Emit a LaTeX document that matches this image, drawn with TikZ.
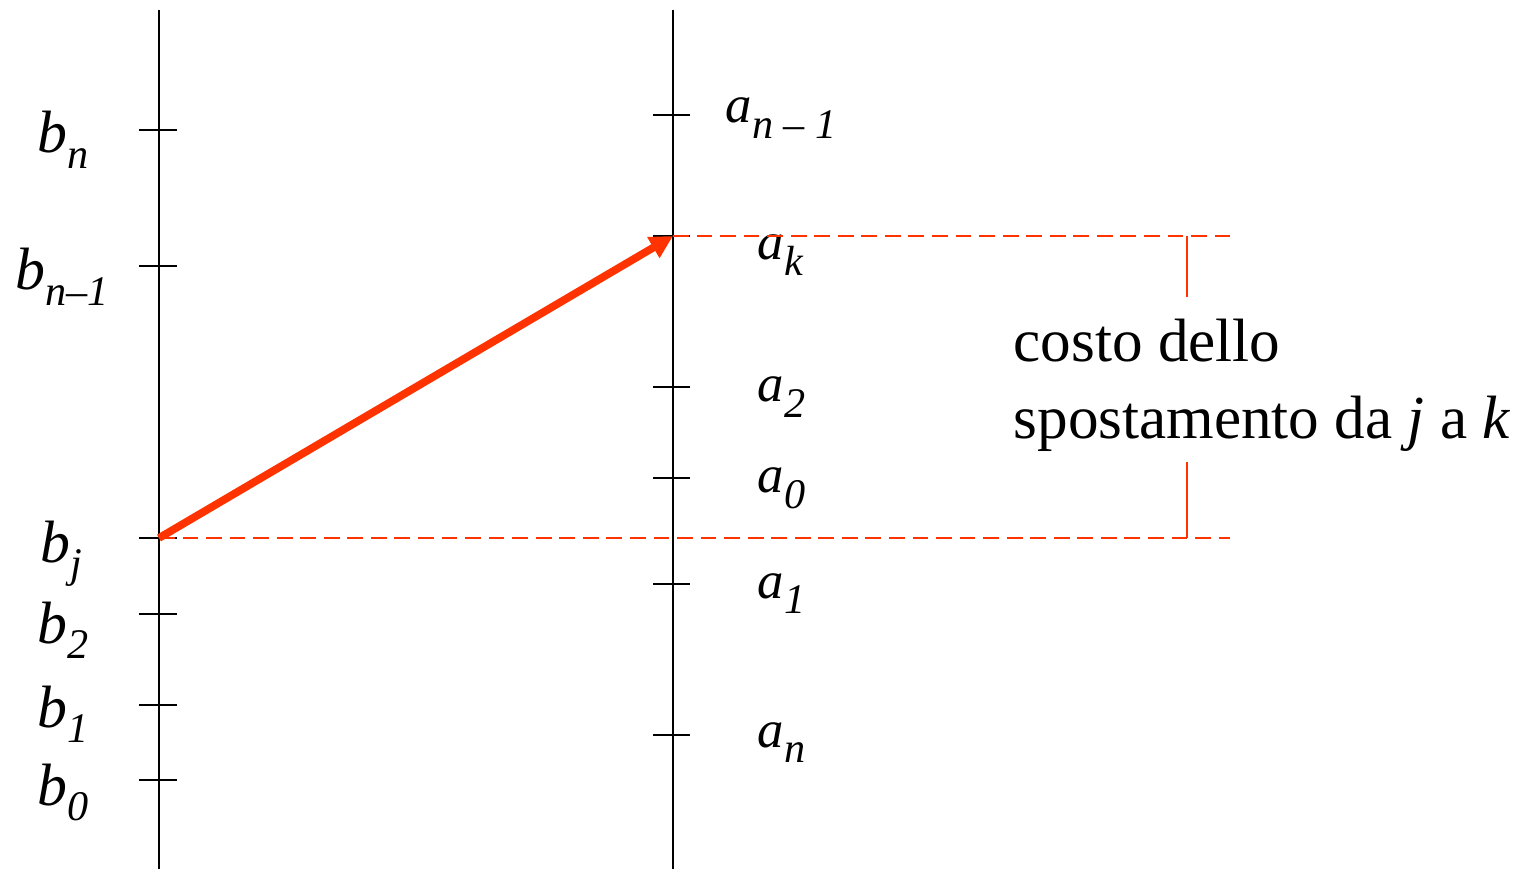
\documentclass[tikz,border=0pt]{standalone}
\usepackage{fontspec}
\setmainfont{Liberation Serif}
\usepackage{tikz}
\usetikzlibrary{arrows.meta}
\definecolor{costred}{HTML}{FF3300}
\tikzset{
  axis/.style={line width=0.6pt},
  axistick/.style={line width=0.6pt},
  levelline/.style={costred, line width=0.55pt, dash pattern=on 4.5pt off 2.2pt},
  bracketline/.style={costred, line width=0.55pt},
  movearrow/.style={costred, line width=2.2pt, -{Triangle[length=6.5pt, width=6.5pt]}},
  bname/.style={anchor=base west, inner sep=0pt, font=\fontsize{17}{20}\selectfont},
  aname/.style={anchor=base west, inner sep=0pt, font=\fontsize{15}{18}\selectfont},
  costtext/.style={anchor=west, align=left, inner sep=0pt, font=\fontsize{17.4}{22}\selectfont}
}
\newcommand{\ix}[2]{\textit{#1}\raisebox{-4.5pt}{\fontsize{12}{14}\selectfont\textit{#2}}}

\begin{document}
\begin{tikzpicture}[x=0.1mm, y=-0.1mm]
  \useasboundingbox (0,0) rectangle (1538,869);

  % the two axes
  \coordinate (btop) at (159,10);
  \coordinate (bbot) at (159,869);
  \coordinate (atop) at (673,10);
  \coordinate (abot) at (673,869);
  \draw[axis] (btop) -- (bbot);
  \draw[axis] (atop) -- (abot);

  % ticks on the left axis
  \draw[axistick] (139,130) -- (177,130);
  \draw[axistick] (139,266) -- (177,266);
  \draw[axistick] (139,538) -- (177,538);
  \draw[axistick] (139,614) -- (177,614);
  \draw[axistick] (139,705) -- (177,705);
  \draw[axistick] (139,780) -- (177,780);

  % ticks on the right axis
  \draw[axistick] (653,115) -- (690,115);
  \draw[axistick] (653,236) -- (690,236);
  \draw[axistick] (653,387) -- (690,387);
  \draw[axistick] (653,478) -- (690,478);
  \draw[axistick] (653,584) -- (690,584);
  \draw[axistick] (653,735) -- (690,735);

  \node[bname] (bn)  at (37,153) {\ix{b}{n}};
  \node[bname] (bn1) at (15,290) {\ix{b}{n–1}};
  \node[bname] (bjl) at (40,562) {\ix{b}{j}};
  \node[bname] (b2)  at (37,643) {\ix{b}{2}};
  \node[bname] (b1)  at (37,727) {\ix{b}{1}};
  \node[bname] (b0)  at (37,805) {\ix{b}{0}};

  \node[aname] (an1) at (725,123) {\ix{a}{n – 1}};
  \node[aname] (akl) at (757,260) {\ix{a}{k}};
  \node[aname] (a2)  at (757,402) {\ix{a}{2}};
  \node[aname] (a0)  at (757,493) {\ix{a}{0}};
  \node[aname] (a1)  at (757,598) {\ix{a}{1}};
  \node[aname] (an)  at (757,747) {\ix{a}{n}};

  % move from b_j to a_k
  \coordinate (bj) at (159,538);
  \coordinate (ak) at (673,236);
  \coordinate (topend) at (1235,236);
  \coordinate (botend) at (1230,538);
  \draw[levelline] (ak) -- (topend);
  \draw[levelline] (bj) -- (botend);
  \draw[movearrow] (bj) -- (ak);

  \node[costtext] (cost) at (1013,385) {costo dello\\spostamento da \textit{j} a \textit{k}};
  \coordinate (brtop) at (1187,236);
  \coordinate (brtopend) at (1187,297);
  \coordinate (brbot) at (1187,538);
  \coordinate (brbotend) at (1187,462);
  \draw[bracketline] (brtop) -- (brtopend);
  \draw[bracketline] (brbot) -- (brbotend);
\end{tikzpicture}
\end{document}
